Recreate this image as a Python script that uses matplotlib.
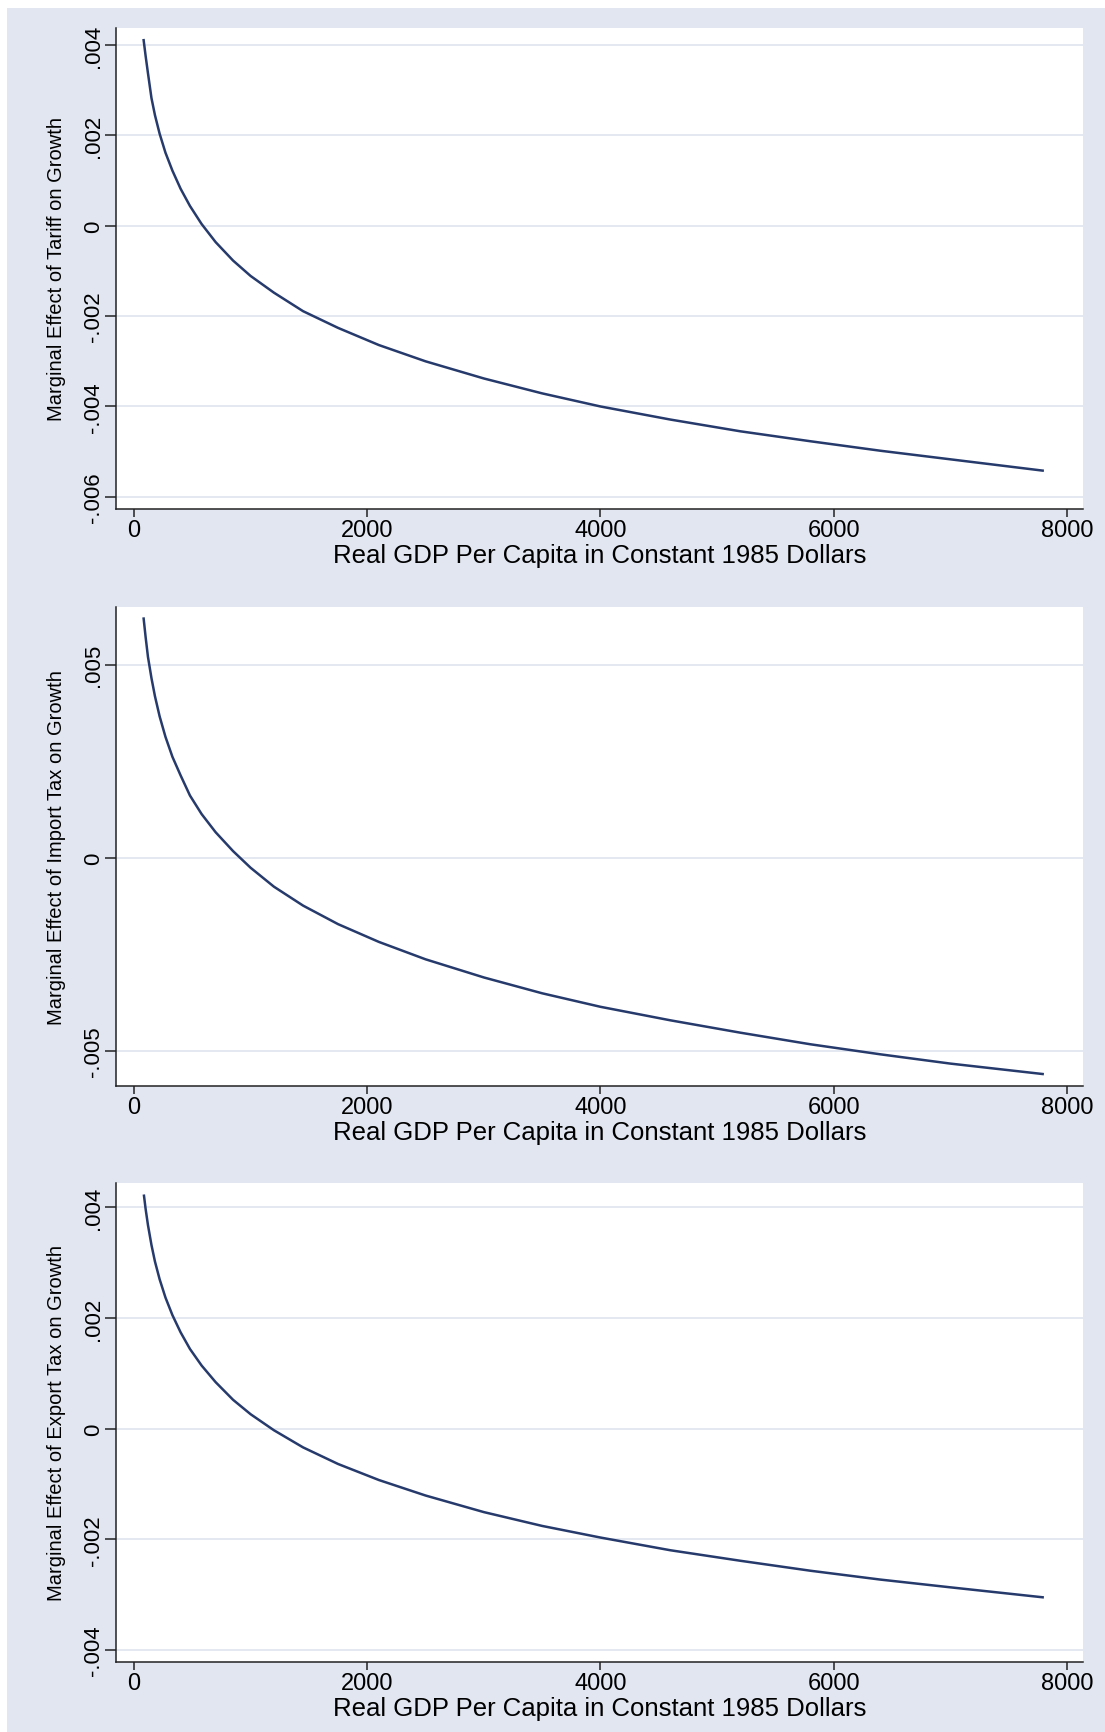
import matplotlib
matplotlib.use("Agg")
import matplotlib.pyplot as plt
from matplotlib.patches import Rectangle

plt.rcParams['font.family'] = ['Liberation Sans', 'DejaVu Sans']

# values (GDP per capita, marginal effect)
gdp = [83, 100, 120, 150, 180, 220, 270, 330, 400, 480, 580, 700, 850, 1000, 1200,
       1450, 1750, 2100, 2500, 3000, 3500, 4000, 4600, 5200, 5800, 6400, 7000, 7791]

me_tariff = [.00411, .00376, .00338, .00283, .00245, .00204, .00162, .00122, .00082,
             .00044, .00004, -.00036, -.00077, -.00111, -.00148, -.00189, -.00226,
             -.00264, -.00300, -.00338, -.00371, -.00400, -.00429, -.00455, -.00477,
             -.00498, -.00517, -.00542]

me_import = [.00619, .00571, .00520, .00465, .00418, .00366, .00313, .00261, .00213,
             .00161, .00113, .00066, .00017, -.00026, -.00075, -.00124, -.00172,
             -.00218, -.00263, -.00310, -.00351, -.00386, -.00421, -.00453, -.00483,
             -.00509, -.00533, -.00560]

gdp_export = [86, 100, 120, 150, 180, 220, 270, 330, 400, 480, 580, 700, 850, 1000,
              1200, 1450, 1750, 2100, 2500, 3000, 3500, 4000, 4600, 5200, 5800, 6400,
              7000, 7791]
me_export = [.00421, .00397, .00368, .00332, .00302, .00270, .00237, .00205, .00174,
             .00144, .00114, .00084, .00052, .00026, -.00003, -.00034, -.00064,
             -.00093, -.00121, -.00151, -.00176, -.00197, -.00220, -.00239, -.00257,
             -.00273, -.00287, -.00305]

x_ticks = [0, 2000, 4000, 6000, 8000]
x_labels = ['0', '2000', '4000', '6000', '8000']

ticks_tariff = [.004, .002, 0, -.002, -.004, -.006]
labels_tariff = ['.004', '.002', '0', '-.002', '-.004', '-.006']
ticks_import = [.005, 0, -.005]
labels_import = ['.005', '0', '-.005']
ticks_export = [.004, .002, 0, -.002, -.004]
labels_export = ['.004', '.002', '0', '-.002', '-.004']

panels = [
    (gdp, me_tariff, ticks_tariff, labels_tariff, (-.00627, .00438),
     'Marginal Effect of Tariff on Growth', 29, 510),
    (gdp, me_import, ticks_import, labels_import, (-.00591, .00649),
     'Marginal Effect of Import Tax on Growth', 608, 1087),
    (gdp_export, me_export, ticks_export, labels_export, (-.00422, .00444),
     'Marginal Effect of Export Tax on Growth', 1184, 1663),
]

W, H = 1105, 1733
bg = '#E1E6F0'
navy = '#263A6C'

fig = plt.figure(figsize=(W / 100, H / 100), dpi=100, facecolor='white')
back = Rectangle((7 / W, 0), 1 - 7 / W, 1 - 9 / H, transform=fig.transFigure,
                 facecolor=bg, edgecolor='none')
back.set_zorder(-10)
fig.add_artist(back)

left, right = 116, 1083
for xs, ys, yt, yl, ylim, ylab, top, bottom in panels:
    ax = fig.add_axes([left / W, 1 - bottom / H, (right - left) / W, (bottom - top) / H])
    ax.set_zorder(1)
    ax.set_facecolor('white')
    ax.plot(xs, ys, color=navy, lw=1.8, zorder=3)
    ax.set_xlim(-154, 8137)
    ax.set_ylim(*ylim)
    ax.set_xticks(x_ticks)
    ax.set_xticklabels(x_labels)
    ax.set_yticks(yt)
    ax.set_yticklabels(yl)
    ax.grid(axis='y', color=bg, lw=1.3, zorder=1)
    ax.grid(axis='x', visible=False)
    for s in ['top', 'right']:
        ax.spines[s].set_visible(False)
    for s in ['left', 'bottom']:
        ax.spines[s].set_color('#222222')
        ax.spines[s].set_linewidth(1.1)
    ax.tick_params(axis='x', length=6, width=1.1, color='#222222', labelsize=17, pad=1.5)
    ax.tick_params(axis='y', length=8, width=1.1, color='#222222', labelsize=16,
                   pad=0.5, labelrotation=90)
    for t in ax.get_yticklabels():
        t.set_va('center')
    ax.set_xlabel('Real GDP Per Capita in Constant 1985 Dollars', fontsize=18.5)
    ax.xaxis.set_label_coords(0.5, -46 / (bottom - top))
    ax.xaxis.label.set_va('center')
    ax.set_ylabel(ylab, fontsize=14.5)
    ax.yaxis.set_label_coords(-59 / (right - left), 0.5)
    ax.yaxis.label.set_va('center')

fig.savefig('out.png', dpi=100, facecolor='white')
